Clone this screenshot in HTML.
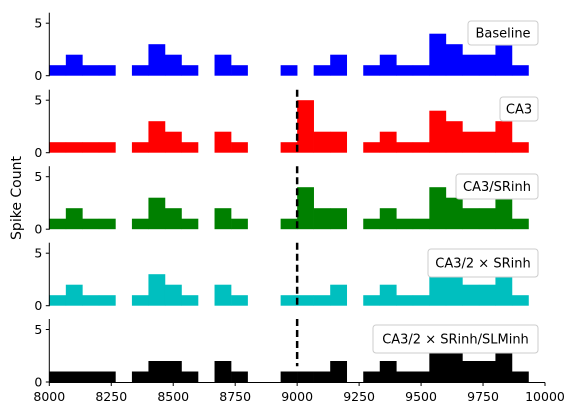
<!DOCTYPE html>
<html><head><meta charset="utf-8"><style>
html,body{margin:0;padding:0;background:#fff;}
svg{display:block;font-family:"DejaVu Sans","Liberation Sans",sans-serif;}
</style></head><body>
<svg id="c" width="577" height="416"></svg>
<script>
const binStart = 8000, binWidth = 2000/30;
const panelNames = ["Baseline","CA3","CA3/SRinh","CA3/2 × SRinh","CA3/2 × SRinh/SLMinh"];
const panelColors = ["#0000ff","#ff0000","#008000","#00bfbf","#000000"];
const baseline = [1,2,1,1,0,1,3,2,1,0,2,1,0,0,1,0,1,2,0,1,2,1,1,4,3,2,2,3,1,0];
const ca3 =      [1,1,1,1,0,1,3,2,1,0,2,1,0,0,1,5,2,2,0,1,2,1,1,4,3,2,2,3,1,0];
const ca3sr =    [1,2,1,1,0,1,3,2,1,0,2,1,0,0,1,4,2,2,0,1,2,1,1,4,3,2,2,3,1,0];
const ca3half =  [1,2,1,1,0,1,3,2,1,0,2,1,0,0,1,1,1,2,0,1,2,1,1,4,3,2,2,3,1,0];
const ca3slm =   [1,1,1,1,0,1,2,2,1,0,2,1,0,0,1,1,1,2,0,1,2,1,1,4,3,2,2,3,1,0];
const xTicks = [8000,8250,8500,8750,9000,9250,9500,9750,10000];
const yTicks = [0,5];
const stimTime = 9000;
const stimRanges = [null,[0,6],[0,6],[0,6],[1.5,6]];
const series = [baseline,ca3,ca3sr,ca3half,ca3slm];

const NS="http://www.w3.org/2000/svg";
const svg=document.getElementById('c');
function mk(t,a,p){const e=document.createElementNS(NS,t);for(const k in a)e.setAttribute(k,a[k]);(p||svg).appendChild(e);return e;}
const x0=49.3,x1=545;
const xs=v=>x0+(v-8000)/2000*(x1-x0);
const zeros=[75.7,152.7,229.2,305.7,382];
const unit=10.5;
const legendBoxes=[[468,21,70,24],[500,97,38,24],[456,174,82,25],[428,249,110,28],[373,325,165,28]];
series.forEach((vals,p)=>{
  const g=mk('g',{});
  
  
  const ys=v=>zeros[p]-v*unit;
  vals.forEach((v,i)=>{
    if(v<=0)return;
    const r=mk('rect',{x:xs(binStart+i*binWidth),y:ys(v),width:xs(binStart+(i+1)*binWidth)-xs(binStart+i*binWidth)+0.3,height:ys(0)-ys(v),fill:panelColors[p]},g);
    
    
  });
  if(stimRanges[p]){
    const l=mk('line',{x1:xs(stimTime),x2:xs(stimTime),y1:ys(stimRanges[p][1]),y2:ys(stimRanges[p][0]),stroke:'#000','stroke-width':2.5,'stroke-dasharray':'7,4'},g);
    
    
  }
  const sp=mk('line',{x1:x0,x2:x0,y1:ys(6),y2:ys(0)+0.5,stroke:'#000','stroke-width':1},g);
  
  
  yTicks.forEach(t=>{
    mk('line',{x1:x0-3.5,x2:x0,y1:ys(t),y2:ys(t),stroke:'#000'},g);
    const tx=mk('text',{x:x0-7,y:ys(t)+4.5,'text-anchor':'end','font-size':12.5,fill:'#000'},g);
    tx.textContent=t;
    
    
  });
  const b=legendBoxes[p];
  const lg=mk('g',{},g);
  
  
  mk('rect',{x:b[0],y:b[1],width:b[2],height:b[3],rx:3,fill:'#fff',stroke:'#ccc'},lg);
  const lt=mk('text',{x:b[0]+b[2]/2,y:b[1]+b[3]/2+4.5,'text-anchor':'middle','font-size':13,fill:'#000'},lg);
  lt.textContent=panelNames[p];
});
const ax=mk('line',{x1:x0,x2:x1,y1:382.5,y2:382.5,stroke:'#000'});


xTicks.forEach(t=>{
  mk('line',{x1:xs(t),x2:xs(t),y1:382.5,y2:386,stroke:'#000'});
  const tx=mk('text',{x:xs(t),y:401,'text-anchor':'middle','font-size':12.5,fill:'#000'});
  tx.textContent=t;
  
  
});
const yl=mk('text',{x:0,y:0,transform:'translate(21,198) rotate(-90)','text-anchor':'middle','font-size':14,fill:'#000'});
yl.textContent='Spike Count';


</script>
</body></html>
